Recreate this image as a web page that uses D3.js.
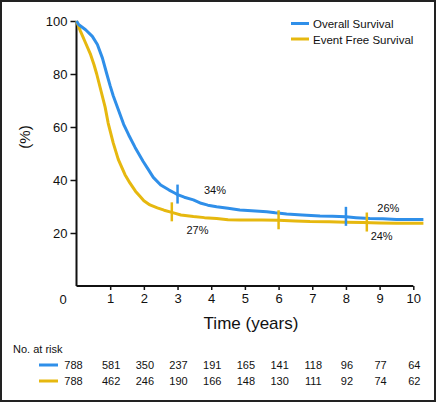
<!DOCTYPE html>
<html><head><meta charset="utf-8">
<script src="https://cdn.jsdelivr.net/npm/d3@7"></script>
<style>
html,body{margin:0;padding:0;background:#fff;}
svg text{font-family:"Liberation Sans",Arial,Helvetica,sans-serif;fill:#111;}
</style></head>
<body><svg id="c" width="440" height="404"></svg>
<script>
const seriesNames = ["Overall Survival", "Event Free Survival"];
const seriesColors = ["#2f8fe9", "#e6b80f"];
const osTime = [0,0.07,0.27,0.47,0.62,0.77,0.9,1.0,1.09,1.24,1.4,1.55,1.74,1.98,2.13,2.28,2.5,2.75,2.9,3.0,3.2,3.47,3.7,3.9,4.16,4.5,4.85,5.2,5.65,5.9,6.24,6.7,7.23,7.6,8.0,8.3,8.71,9.1,9.5,10.3];
const osSurv = [100,98.6,96.7,94.2,91.1,86,80,75.5,71.8,66.6,61,57,52.3,47,44,41,38.1,36.2,35.2,34.5,33.5,32.5,31.2,30.5,29.9,29.3,28.7,28.4,28,27.6,27.2,26.8,26.4,26.3,26.1,25.8,25.5,25.4,25.1,25.1];
const efsTime = [0,0.12,0.27,0.42,0.52,0.6,0.7,0.85,0.94,1.09,1.24,1.44,1.59,1.75,1.89,2.0,2.18,2.4,2.6,2.83,3.1,3.47,3.8,4.16,4.5,4.85,5.5,6.0,6.5,6.93,7.5,8.0,8.5,9.0,9.5,10.3];
const efsSurv = [100,96.1,91.7,87.3,83.5,80,75,67.5,61.5,54,47.8,42,38.8,35.8,33.8,32.2,30.6,29.5,28.6,27.8,26.8,26.2,25.8,25.5,25.0,24.9,24.9,24.8,24.5,24.3,24.2,24.1,24.0,23.8,23.7,23.7];
const osCensor = [3, 8];
const efsCensor = [2.83, 6, 8.62];
const osAnnot = [{t:4.11, v:36.2, text:"34%"}, {t:9.26, v:29.5, text:"26%"}];
const efsAnnot = [{t:3.59, v:21, text:"27%"}, {t:9.06, v:19, text:"24%"}];
const xTicks = [1,2,3,4,5,6,7,8,9,10];
const yTicks = [20,40,60,80,100];
const riskTimes = [0,1,2,3,4,5,6,7,8,9,10];
const osRisk = [788,581,350,237,191,165,141,118,96,77,64];
const efsRisk = [788,462,246,190,166,148,130,111,92,74,62];

const svg = d3.select("#c");
const x = d3.scaleLinear().domain([0,10]).range([76.5,413.3]);
const y = d3.scaleLinear().domain([0,100]).range([286,21]);

// frame
svg.append("rect").attr("x",1).attr("y",1).attr("width",434).attr("height",400)
  .attr("fill","none").attr("stroke","#222").attr("stroke-width",2);

// axes
const yAxis = d3.axisLeft(y).tickValues(yTicks).tickSize(6).tickPadding(3);
const gy = svg.append("g").attr("transform",`translate(${x(0)},0)`).call(yAxis);
const xAxis = d3.axisBottom(x).tickValues(xTicks).tickSize(4).tickPadding(4);
const gx = svg.append("g").attr("transform",`translate(0,${y(0)})`).call(xAxis);
[gy,gx].forEach(g=>{
  g.select(".domain").attr("stroke","#111").attr("stroke-width",2);
  g.selectAll(".tick line").attr("stroke","#111").attr("stroke-width",1.5);
  g.selectAll(".tick text").attr("font-size",13).attr("fill","#111")
    .style("font-family","'Liberation Sans',Arial,sans-serif");
});
gy.select(".domain").attr("d",`M-0,${y(100)}V${y(0)}`);
gx.select(".domain").attr("d",`M${x(0)},0H${x(10)}`);
svg.append("text").attr("x",63).attr("y",y(0)+18).attr("text-anchor","middle")
  .attr("font-size",13).text("0");

svg.append("text").attr("x",251).attr("y",329).attr("text-anchor","middle")
  .attr("font-size",17).text("Time (years)");
svg.append("text").attr("transform","translate(30,137) rotate(-90)")
  .attr("text-anchor","middle").attr("font-size",15).text("(%)");

// curves
const line = d3.line().x(d=>x(d[0])).y(d=>y(d[1])).curve(d3.curveLinear);
const curves = [d3.zip(osTime,osSurv), d3.zip(efsTime,efsSurv)];
const censors = [osCensor, efsCensor];
const times = [osTime, efsTime], survs=[osSurv, efsSurv];
function valAt(i,t){
  const ts = times[i], vs = survs[i];
  const idx = Math.min(ts.length-2, Math.max(0, d3.bisectRight(ts, t)-1));
  const f = (t-ts[idx])/(ts[idx+1]-ts[idx]);
  return vs[idx] + f*(vs[idx+1]-vs[idx]);
}
[1,0].forEach(i=>{
  svg.append("path").datum(curves[i]).attr("d",line).attr("fill","none")
    .attr("stroke",seriesColors[i]).attr("stroke-width",3).attr("stroke-linejoin","round");
});
[1,0].forEach(i=>{
  censors[i].forEach(t=>{
    const v = valAt(i,t);
    svg.append("line").attr("x1",x(t)).attr("x2",x(t))
      .attr("y1",y(v)-10).attr("y2",y(v)+9)
      .attr("stroke",seriesColors[i]).attr("stroke-width",2.5);
  });
});
osAnnot.concat(efsAnnot).forEach(a=>{
  svg.append("text").attr("x",x(a.t)).attr("y",y(a.v)+4).attr("text-anchor","middle")
    .attr("font-size",11).text(a.text);
});

// legend
seriesNames.forEach((n,i)=>{
  const ly = 23.5 + i*15.5;
  svg.append("line").attr("x1",291).attr("x2",309).attr("y1",ly).attr("y2",ly)
    .attr("stroke",seriesColors[i]).attr("stroke-width",3);
  svg.append("text").attr("x",313).attr("y",ly+4.5).attr("font-size",11.5).text(n);
});

// number at risk
svg.append("text").attr("x",13).attr("y",353).attr("font-size",11).text("No. at risk");
[osRisk, efsRisk].forEach((row,i)=>{
  const ry = 365 + i*16;
  svg.append("line").attr("x1",39).attr("x2",58).attr("y1",ry).attr("y2",ry)
    .attr("stroke",seriesColors[i]).attr("stroke-width",3);
  row.forEach((n,j)=>{
    const t = riskTimes[j];
    svg.append("text").attr("x", t===0 ? x(t)-3 : x(t)+1).attr("y",ry+4)
      .attr("text-anchor","middle").attr("font-size",11).text(n);
  });
});
</script></body></html>
